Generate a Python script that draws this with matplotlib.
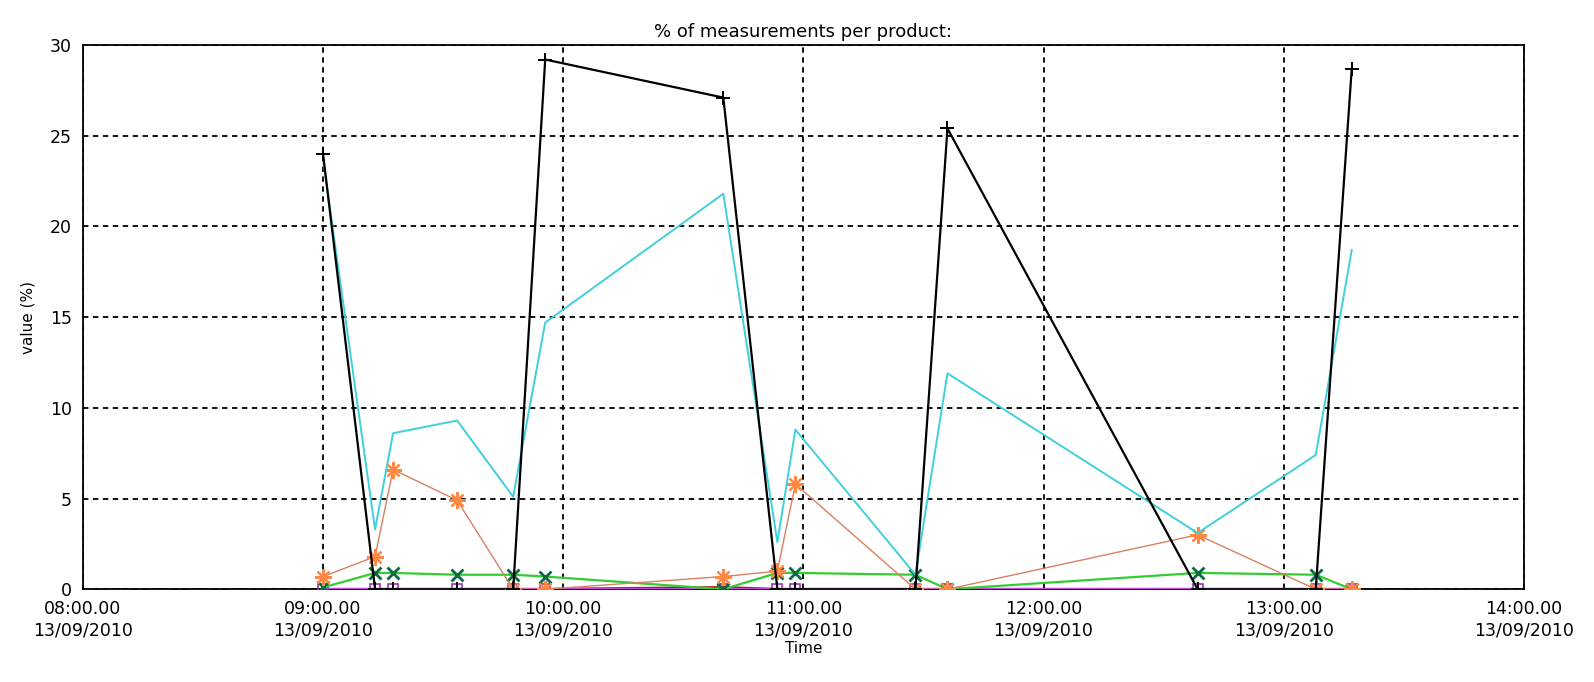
import matplotlib
matplotlib.use("Agg")
import matplotlib.pyplot as plt
import matplotlib.dates as mdates
import pandas as pd

# measurement times (13/09/2010)
times = ["09:00:00", "09:13:00", "09:17:30", "09:33:30", "09:47:30", "09:55:30",
         "10:40:00", "10:53:30", "10:58:00", "11:28:00", "11:36:00", "12:38:30",
         "13:08:00", "13:17:00"]

black = [24.0, 0, 0, 0, 0, 29.2, 27.1, 0, 0, 0, 25.4, 0, 0, 28.7]
cyan = [23.7, 3.3, 8.6, 9.3, 5.1, 14.7, 21.8, 2.6, 8.8, 0.8, 11.9, 3.1, 7.4, 18.7]
orange = [0.7, 1.8, 6.6, 4.9, 0, 0, 0.7, 1.0, 5.8, 0, 0, 3.0, 0, 0]
green = [0.1, 0.9, 0.9, 0.8, 0.8, 0.7, 0, 0.9, 0.9, 0.8, 0, 0.9, 0.8, 0]
purple = [0] * 14
darkred = [0, 0, 0, 0, 0, 0, 0.1, 0, 0, 0, 0, 0, 0, 0]

t = pd.to_datetime(["2010-09-13 " + s for s in times])

fig = plt.figure(figsize=(15.94, 6.82), dpi=100)
ax = fig.add_axes([0.052, 0.136, 0.904, 0.798])

ax.plot(t, darkred, color="#992211", lw=2, zorder=2)
ax.plot(t, purple, color="#cc44dd", lw=1.5, marker="s", ms=7, mfc="none",
        mec="#9933bb", mew=1.2, zorder=3)
ax.plot(t, green, color="#33cc33", lw=1.6, marker="x", ms=9, mec="#0a6a40",
        mew=2, zorder=4)
# asterisk markers like the original
ax.plot(t, orange, color="#d9805f", lw=1, marker=(8, 2, 0), ms=12,
        mec="#ff8844", mew=1.6, zorder=5)
ax.plot(t, cyan, color="#3fd0dc", lw=1.4, zorder=6)
ax.plot(t, black, color="black", lw=1.6, marker="+", ms=10, mew=1.4, zorder=7)

ax.set_xlim(pd.Timestamp("2010-09-13 08:00"), pd.Timestamp("2010-09-13 14:00"))
ax.set_ylim(0, 30)
ax.xaxis.set_major_locator(mdates.HourLocator())
ax.xaxis.set_major_formatter(mdates.DateFormatter("%H:%M.%S\n%d/%m/%Y"))
ax.set_yticks([0, 5, 10, 15, 20, 25, 30])
ax.tick_params(length=0, labelsize=12.5, pad=8)
ax.grid(True, color="black", linestyle=(0, (3, 2.5)), lw=1.3)

for s in ax.spines.values():
    s.set_linewidth(1.3)

ax.set_title("% of measurements per product:", fontsize=13, pad=6)
ax.set_xlabel("Time", fontsize=11, labelpad=1)
ax.set_ylabel("value (%)", fontsize=11, labelpad=10)

fig.savefig("out.png", dpi=100)
